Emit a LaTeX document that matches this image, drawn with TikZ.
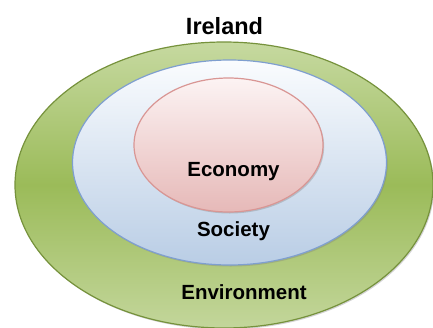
\documentclass[tikz,border=0pt]{standalone}
\usepackage{fontspec}
\setmainfont{Liberation Sans}
\usepackage{tikz}
\usetikzlibrary{shapes.geometric,shadows}

\definecolor{envTop}{HTML}{C6D9A0}
\definecolor{envMid}{HTML}{9BBB59}
\definecolor{envBot}{HTML}{C3D69B}
\definecolor{envLine}{HTML}{76923C}
\definecolor{socTop}{HTML}{FAFCFE}
\definecolor{socBot}{HTML}{B9CDE5}
\definecolor{socLine}{HTML}{7F9FCF}
\definecolor{ecoTop}{HTML}{FCF3F3}
\definecolor{ecoBot}{HTML}{E6B9B8}
\definecolor{ecoLine}{HTML}{D99694}

\begin{document}
\begin{tikzpicture}[x=1pt,y=-1pt]

		\useasboundingbox (0,0) rectangle (433,327);

		\tikzstyle{ring}=[draw, ellipse, inner sep=0pt, line width=1.2pt,
			drop shadow={shadow xshift=1.2pt, shadow yshift=-1.5pt, opacity=0.35}]
		\tikzstyle{label}=[anchor=base, text=black, font=\bfseries\fontsize{20.5}{24}\selectfont]

		% the three spheres, outermost first
		\node[ring, draw=envLine, top color=envTop, bottom color=envBot, middle color=envMid,
			minimum width=418pt, minimum height=286pt] (E) at (224,185) {};
		\node[ring, draw=socLine, top color=socTop, bottom color=socBot,
			minimum width=314pt, minimum height=205pt] (S) at (229.5,162.5) {};
		\node[ring, draw=ecoLine, top color=ecoTop, bottom color=ecoBot,
			minimum width=189pt, minimum height=134pt] (C) at (228.5,145) {};

		\node[label, font=\bfseries\fontsize{23.5}{28}\selectfont] (title) at (224.5,34) {Ireland};
		\node[label] (eco) at (233.5,176) {Economy};
		\node[label] (soc) at (233.5,236) {Society};
		\node[label] (env) at (244,299) {Environment};

	\end{tikzpicture}
\end{document}
